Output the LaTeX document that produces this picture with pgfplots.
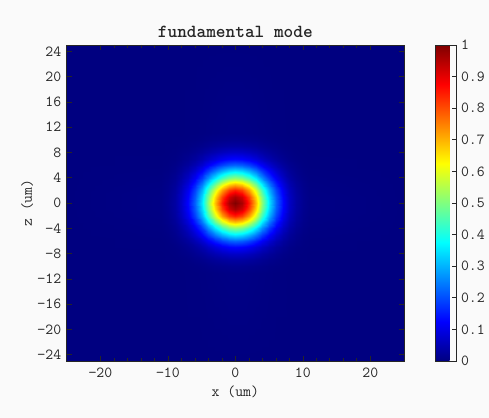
\documentclass[border=0pt]{standalone}
\usepackage{pgfplots}
\pgfplotsset{compat=1.18}
\usepackage{pgfplotstable}
\definecolor{bg}{RGB}{250,250,250}
\definecolor{ax}{RGB}{38,38,38}
\pgfplotstableread{
x z v
-25 -25 0
-11 -25 0
-10 -25 0
-9 -25 0
-8 -25 0
-7 -25 0
-6 -25 0
-5 -25 0
-4 -25 0
-3 -25 0
-2 -25 0
-1 -25 0
0 -25 0
1 -25 0
2 -25 0
3 -25 0
4 -25 0
5 -25 0
6 -25 0
7 -25 0
8 -25 0
9 -25 0
10 -25 0
11 -25 0
25 -25 0
-25 -11 0
-11 -11 0
-10 -11 0
-9 -11 0
-8 -11 0
-7 -11 0.001
-6 -11 0.001
-5 -11 0.002
-4 -11 0.003
-3 -11 0.004
-2 -11 0.005
-1 -11 0.006
0 -11 0.006
1 -11 0.006
2 -11 0.005
3 -11 0.004
4 -11 0.003
5 -11 0.002
6 -11 0.001
7 -11 0.001
8 -11 0
9 -11 0
10 -11 0
11 -11 0
25 -11 0
-25 -10 0
-11 -10 0
-10 -10 0
-9 -10 0.001
-8 -10 0.001
-7 -10 0.002
-6 -10 0.003
-5 -10 0.005
-4 -10 0.008
-3 -10 0.011
-2 -10 0.013
-1 -10 0.015
0 -10 0.016
1 -10 0.015
2 -10 0.013
3 -10 0.011
4 -10 0.008
5 -10 0.005
6 -10 0.003
7 -10 0.002
8 -10 0.001
9 -10 0.001
10 -10 0
11 -10 0
25 -10 0
-25 -9 0
-11 -9 0
-10 -9 0.001
-9 -9 0.001
-8 -9 0.002
-7 -9 0.004
-6 -9 0.008
-5 -9 0.012
-4 -9 0.018
-3 -9 0.024
-2 -9 0.029
-1 -9 0.033
0 -9 0.034
1 -9 0.033
2 -9 0.029
3 -9 0.024
4 -9 0.018
5 -9 0.012
6 -9 0.008
7 -9 0.004
8 -9 0.002
9 -9 0.001
10 -9 0.001
11 -9 0
25 -9 0
-25 -8 0
-11 -8 0
-10 -8 0.001
-9 -8 0.002
-8 -8 0.005
-7 -8 0.009
-6 -8 0.016
-5 -8 0.025
-4 -8 0.036
-3 -8 0.048
-2 -8 0.059
-1 -8 0.067
0 -8 0.069
1 -8 0.067
2 -8 0.059
3 -8 0.048
4 -8 0.036
5 -8 0.025
6 -8 0.016
7 -8 0.009
8 -8 0.005
9 -8 0.002
10 -8 0.001
11 -8 0
25 -8 0
-25 -7 0
-11 -7 0.001
-10 -7 0.002
-9 -7 0.004
-8 -7 0.009
-7 -7 0.017
-6 -7 0.029
-5 -7 0.046
-4 -7 0.067
-3 -7 0.089
-2 -7 0.110
-1 -7 0.125
0 -7 0.130
1 -7 0.125
2 -7 0.110
3 -7 0.089
4 -7 0.067
5 -7 0.046
6 -7 0.029
7 -7 0.017
8 -7 0.009
9 -7 0.004
10 -7 0.002
11 -7 0.001
25 -7 0
-25 -6 0
-11 -6 0.001
-10 -6 0.003
-9 -6 0.008
-8 -6 0.016
-7 -6 0.029
-6 -6 0.050
-5 -6 0.079
-4 -6 0.115
-3 -6 0.153
-2 -6 0.189
-1 -6 0.214
0 -6 0.223
1 -6 0.214
2 -6 0.189
3 -6 0.153
4 -6 0.115
5 -6 0.079
6 -6 0.050
7 -6 0.029
8 -6 0.016
9 -6 0.008
10 -6 0.003
11 -6 0.001
25 -6 0
-25 -5 0
-11 -5 0.002
-10 -5 0.005
-9 -5 0.012
-8 -5 0.025
-7 -5 0.046
-6 -5 0.079
-5 -5 0.125
-4 -5 0.181
-3 -5 0.243
-2 -5 0.299
-1 -5 0.338
0 -5 0.353
1 -5 0.338
2 -5 0.299
3 -5 0.243
4 -5 0.181
5 -5 0.125
6 -5 0.079
7 -5 0.046
8 -5 0.025
9 -5 0.012
10 -5 0.005
11 -5 0.002
25 -5 0
-25 -4 0
-11 -4 0.003
-10 -4 0.008
-9 -4 0.018
-8 -4 0.036
-7 -4 0.067
-6 -4 0.115
-5 -4 0.181
-4 -4 0.264
-3 -4 0.353
-2 -4 0.435
-1 -4 0.492
0 -4 0.513
1 -4 0.492
2 -4 0.435
3 -4 0.353
4 -4 0.264
5 -4 0.181
6 -4 0.115
7 -4 0.067
8 -4 0.036
9 -4 0.018
10 -4 0.008
11 -4 0.003
25 -4 0
-25 -3 0
-11 -3 0.004
-10 -3 0.011
-9 -3 0.024
-8 -3 0.048
-7 -3 0.089
-6 -3 0.153
-5 -3 0.243
-4 -3 0.353
-3 -3 0.472
-2 -3 0.582
-1 -3 0.659
0 -3 0.687
1 -3 0.659
2 -3 0.582
3 -3 0.472
4 -3 0.353
5 -3 0.243
6 -3 0.153
7 -3 0.089
8 -3 0.048
9 -3 0.024
10 -3 0.011
11 -3 0.004
25 -3 0
-25 -2 0
-11 -2 0.005
-10 -2 0.013
-9 -2 0.029
-8 -2 0.059
-7 -2 0.110
-6 -2 0.189
-5 -2 0.299
-4 -2 0.435
-3 -2 0.582
-2 -2 0.717
-1 -2 0.812
0 -2 0.846
1 -2 0.812
2 -2 0.717
3 -2 0.582
4 -2 0.435
5 -2 0.299
6 -2 0.189
7 -2 0.110
8 -2 0.059
9 -2 0.029
10 -2 0.013
11 -2 0.005
25 -2 0
-25 -1 0
-11 -1 0.006
-10 -1 0.015
-9 -1 0.033
-8 -1 0.067
-7 -1 0.125
-6 -1 0.214
-5 -1 0.338
-4 -1 0.492
-3 -1 0.659
-2 -1 0.812
-1 -1 0.920
0 -1 0.959
1 -1 0.920
2 -1 0.812
3 -1 0.659
4 -1 0.492
5 -1 0.338
6 -1 0.214
7 -1 0.125
8 -1 0.067
9 -1 0.033
10 -1 0.015
11 -1 0.006
25 -1 0
-25 0 0
-11 0 0.006
-10 0 0.016
-9 0 0.034
-8 0 0.069
-7 0 0.130
-6 0 0.223
-5 0 0.353
-4 0 0.513
-3 0 0.687
-2 0 0.846
-1 0 0.959
0 0 1.000
1 0 0.959
2 0 0.846
3 0 0.687
4 0 0.513
5 0 0.353
6 0 0.223
7 0 0.130
8 0 0.069
9 0 0.034
10 0 0.016
11 0 0.006
25 0 0
-25 1 0
-11 1 0.006
-10 1 0.015
-9 1 0.033
-8 1 0.067
-7 1 0.125
-6 1 0.214
-5 1 0.338
-4 1 0.492
-3 1 0.659
-2 1 0.812
-1 1 0.920
0 1 0.959
1 1 0.920
2 1 0.812
3 1 0.659
4 1 0.492
5 1 0.338
6 1 0.214
7 1 0.125
8 1 0.067
9 1 0.033
10 1 0.015
11 1 0.006
25 1 0
-25 2 0
-11 2 0.005
-10 2 0.013
-9 2 0.029
-8 2 0.059
-7 2 0.110
-6 2 0.189
-5 2 0.299
-4 2 0.435
-3 2 0.582
-2 2 0.717
-1 2 0.812
0 2 0.846
1 2 0.812
2 2 0.717
3 2 0.582
4 2 0.435
5 2 0.299
6 2 0.189
7 2 0.110
8 2 0.059
9 2 0.029
10 2 0.013
11 2 0.005
25 2 0
-25 3 0
-11 3 0.004
-10 3 0.011
-9 3 0.024
-8 3 0.048
-7 3 0.089
-6 3 0.153
-5 3 0.243
-4 3 0.353
-3 3 0.472
-2 3 0.582
-1 3 0.659
0 3 0.687
1 3 0.659
2 3 0.582
3 3 0.472
4 3 0.353
5 3 0.243
6 3 0.153
7 3 0.089
8 3 0.048
9 3 0.024
10 3 0.011
11 3 0.004
25 3 0
-25 4 0
-11 4 0.003
-10 4 0.008
-9 4 0.018
-8 4 0.036
-7 4 0.067
-6 4 0.115
-5 4 0.181
-4 4 0.264
-3 4 0.353
-2 4 0.435
-1 4 0.492
0 4 0.513
1 4 0.492
2 4 0.435
3 4 0.353
4 4 0.264
5 4 0.181
6 4 0.115
7 4 0.067
8 4 0.036
9 4 0.018
10 4 0.008
11 4 0.003
25 4 0
-25 5 0
-11 5 0.002
-10 5 0.005
-9 5 0.012
-8 5 0.025
-7 5 0.046
-6 5 0.079
-5 5 0.125
-4 5 0.181
-3 5 0.243
-2 5 0.299
-1 5 0.338
0 5 0.353
1 5 0.338
2 5 0.299
3 5 0.243
4 5 0.181
5 5 0.125
6 5 0.079
7 5 0.046
8 5 0.025
9 5 0.012
10 5 0.005
11 5 0.002
25 5 0
-25 6 0
-11 6 0.001
-10 6 0.003
-9 6 0.008
-8 6 0.016
-7 6 0.029
-6 6 0.050
-5 6 0.079
-4 6 0.115
-3 6 0.153
-2 6 0.189
-1 6 0.214
0 6 0.223
1 6 0.214
2 6 0.189
3 6 0.153
4 6 0.115
5 6 0.079
6 6 0.050
7 6 0.029
8 6 0.016
9 6 0.008
10 6 0.003
11 6 0.001
25 6 0
-25 7 0
-11 7 0.001
-10 7 0.002
-9 7 0.004
-8 7 0.009
-7 7 0.017
-6 7 0.029
-5 7 0.046
-4 7 0.067
-3 7 0.089
-2 7 0.110
-1 7 0.125
0 7 0.130
1 7 0.125
2 7 0.110
3 7 0.089
4 7 0.067
5 7 0.046
6 7 0.029
7 7 0.017
8 7 0.009
9 7 0.004
10 7 0.002
11 7 0.001
25 7 0
-25 8 0
-11 8 0
-10 8 0.001
-9 8 0.002
-8 8 0.005
-7 8 0.009
-6 8 0.016
-5 8 0.025
-4 8 0.036
-3 8 0.048
-2 8 0.059
-1 8 0.067
0 8 0.069
1 8 0.067
2 8 0.059
3 8 0.048
4 8 0.036
5 8 0.025
6 8 0.016
7 8 0.009
8 8 0.005
9 8 0.002
10 8 0.001
11 8 0
25 8 0
-25 9 0
-11 9 0
-10 9 0.001
-9 9 0.001
-8 9 0.002
-7 9 0.004
-6 9 0.008
-5 9 0.012
-4 9 0.018
-3 9 0.024
-2 9 0.029
-1 9 0.033
0 9 0.034
1 9 0.033
2 9 0.029
3 9 0.024
4 9 0.018
5 9 0.012
6 9 0.008
7 9 0.004
8 9 0.002
9 9 0.001
10 9 0.001
11 9 0
25 9 0
-25 10 0
-11 10 0
-10 10 0
-9 10 0.001
-8 10 0.001
-7 10 0.002
-6 10 0.003
-5 10 0.005
-4 10 0.008
-3 10 0.011
-2 10 0.013
-1 10 0.015
0 10 0.016
1 10 0.015
2 10 0.013
3 10 0.011
4 10 0.008
5 10 0.005
6 10 0.003
7 10 0.002
8 10 0.001
9 10 0.001
10 10 0
11 10 0
25 10 0
-25 11 0
-11 11 0
-10 11 0
-9 11 0
-8 11 0
-7 11 0.001
-6 11 0.001
-5 11 0.002
-4 11 0.003
-3 11 0.004
-2 11 0.005
-1 11 0.006
0 11 0.006
1 11 0.006
2 11 0.005
3 11 0.004
4 11 0.003
5 11 0.002
6 11 0.001
7 11 0.001
8 11 0
9 11 0
10 11 0
11 11 0
25 11 0
-25 25 0
-11 25 0
-10 25 0
-9 25 0
-8 25 0
-7 25 0
-6 25 0
-5 25 0
-4 25 0
-3 25 0
-2 25 0
-1 25 0
0 25 0
1 25 0
2 25 0
3 25 0
4 25 0
5 25 0
6 25 0
7 25 0
8 25 0
9 25 0
10 25 0
11 25 0
25 25 0
}\modedata
\begin{document}
\begin{tikzpicture}
\fill[bg] (0,0) rectangle (489bp,418bp);
\begin{axis}[
  at={(66.7bp,57bp)}, anchor=south west,
  width=337.3bp, height=316bp, scale only axis,
  xmin=-25, xmax=25, ymin=-25, ymax=25,
  axis on top,
  axis line style={ax, line width=0.6pt},
  every tick/.style={ax, line width=0.6pt},
  tick align=inside,
  major tick length=5bp, minor tick length=3bp,
  xtick={-20,-10,0,10,20},
  xticklabels={−20,−10,0,10,20},
  minor x tick num=4,
  ytick={-24,-20,-16,-12,-8,-4,0,4,8,12,16,20,24},
  yticklabels={−24,−20,−16,−12,−8,−4,0,4,8,12,16,20,24},
  tick label style={font=\ttfamily\fontsize{15.4}{17}\selectfont, color=ax},
  xticklabel style={yshift=-3bp},
  yticklabel style={xshift=-2bp},
  title={fundamental mode},
  title style={font=\ttfamily\bfseries\fontsize{18.5}{20}\selectfont, color=ax, at={(axis description cs:0.5,1)}, anchor=base, yshift=2bp},
  xlabel={x (um)},
  xlabel style={font=\ttfamily\fontsize{15.4}{17}\selectfont, color=ax, at={(axis description cs:0.5,0)}, anchor=base, yshift=-36bp},
  ylabel={z (um)},
  ylabel style={font=\ttfamily\fontsize{15.4}{17}\selectfont, color=ax, at={(axis description cs:-0.1029,0.5)}, anchor=base},
  colormap/jet,
  point meta min=0, point meta max=1,
  colorbar,
  colorbar style={
    at={(parent axis.north east)}, anchor=north west, xshift=23bp,
    width=21bp,
    axis line style={ax, line width=0.6pt},
    ytick={0,0.1,0.2,0.3,0.4,0.5,0.6,0.7,0.8,0.9,1},
    yticklabels={0,0.1,0.2,0.3,0.4,0.5,0.6,0.7,0.8,0.9,1},
    ytick pos=right,
    tick align=inside,
    major tick length=5bp,
    every tick/.style={ax, line width=0.6pt},
    yticklabel style={font=\ttfamily\fontsize{15.4}{17}\selectfont, color=ax, xshift=1bp},
  },
]
\addplot[surf, shader=interp, mesh/cols=25, point meta=\thisrow{v}] table[x=x, y=z] {\modedata};
\end{axis}
\end{tikzpicture}
\end{document}
